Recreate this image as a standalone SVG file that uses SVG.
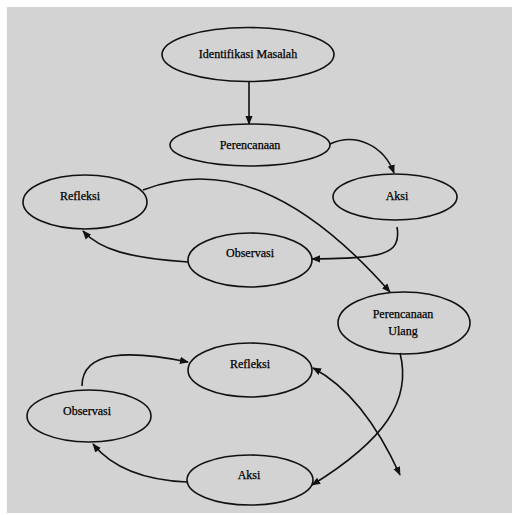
<svg xmlns="http://www.w3.org/2000/svg" width="512" height="515" viewBox="0 0 512 515">
<defs>
<style>
.n ellipse{fill:none;stroke:#111;stroke-width:1.6}
.n text{font-family:"Liberation Serif","Times New Roman",serif;font-size:12px;fill:#000;stroke:#000;stroke-width:0.25;text-anchor:middle}
.c path{fill:none;stroke:#111;stroke-width:1.6}
</style>
<marker id="ahb" viewBox="0 0 10 10" refX="9" refY="5" markerWidth="9" markerHeight="9" orient="auto-start-reverse" markerUnits="userSpaceOnUse">
<path d="M0,1 L10,5 L0,9 Z" fill="#111"/>
</marker>
</defs>
<rect x="0" y="0" width="512" height="515" fill="#ffffff"/>
<rect x="7" y="7" width="505" height="506" fill="#d3d3d3"/>

<g class="c">
<path d="M249,82 L249,124" marker-end="url(#ahb)" stroke-width="2"/>
<path d="M330,144 C356,132 384,146 394,173" marker-end="url(#ahb)"/>
<path d="M397,227 C402,256 380,258 312,259" marker-end="url(#ahb)" stroke-width="2"/>
<path d="M188,262 C130,258 100,250 83,231" marker-end="url(#ahb)"/>
<path d="M143,190 C220,160 300,190 390,292" marker-end="url(#ahb)"/>
<path d="M400,353 C412,400 385,440 312,485" marker-end="url(#ahb)"/>
<path d="M187,482 C140,480 110,465 93,444" marker-end="url(#ahb)"/>
<path d="M82,386 C82,350 130,350 188,362" marker-end="url(#ahb)"/>
<path d="M313,368 C345,385 375,420 400,475" marker-start="url(#ahb)" marker-end="url(#ahb)"/>
</g>

<g id="identifikasi" class="n"><ellipse cx="248" cy="54.5" rx="86" ry="27"/><text x="248" y="58">Identifikasi Masalah</text></g>
<g id="perencanaan" class="n"><ellipse cx="250" cy="145" rx="80" ry="21"/><text x="250" y="149">Perencanaan</text></g>
<g id="refleksi1" class="n"><ellipse cx="85" cy="202" rx="62" ry="27"/><text x="80" y="200">Refleksi</text></g>
<g id="aksi1" class="n"><ellipse cx="395" cy="197" rx="62" ry="23"/><text x="397" y="200">Aksi</text></g>
<g id="observasi1" class="n"><ellipse cx="250" cy="260" rx="62" ry="27"/><text x="250" y="257">Observasi</text></g>
<g id="perencanaan-ulang" class="n"><ellipse cx="404" cy="323" rx="66" ry="31"/><text x="403" y="318">Perencanaan</text><text x="403" y="335">Ulang</text></g>
<g id="refleksi2" class="n"><ellipse cx="250" cy="370" rx="62" ry="27"/><text x="250" y="368">Refleksi</text></g>
<g id="observasi2" class="n"><ellipse cx="89" cy="416" rx="62" ry="26"/><text x="87" y="415">Observasi</text></g>
<g id="aksi2" class="n"><ellipse cx="250" cy="480" rx="63" ry="25"/><text x="249" y="479">Aksi</text></g>
</svg>
